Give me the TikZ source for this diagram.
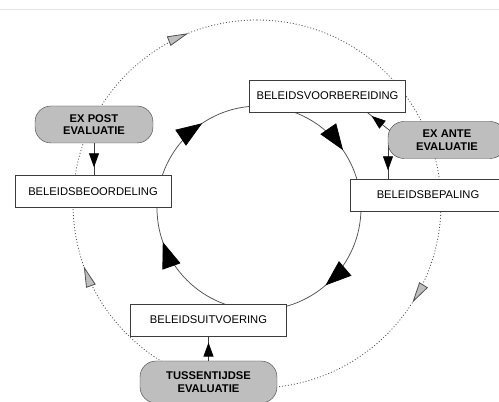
\documentclass[tikz,border=0pt]{standalone}
\usepackage{fontspec}
\setmainfont{Liberation Sans}
\usetikzlibrary{arrows.meta, decorations.markings, backgrounds, calc}
\definecolor{evalgray}{RGB}{190,190,190}
\definecolor{boxline}{RGB}{60,60,60}
\definecolor{loopgray}{RGB}{80,80,80}

\begin{document}
\begin{tikzpicture}[
    x=1pt, y=1pt,
    box/.style={rectangle, draw=boxline, fill=white, minimum width=156pt,
      minimum height=32pt, inner sep=0pt, text centered,
      font=\fontsize{11.2}{12.5}\selectfont},
    evalbox/.style={rectangle, rounded corners=16pt, draw=boxline, fill=evalgray,
      minimum width=118pt, minimum height=37pt, inner sep=0pt, align=center,
      font=\fontsize{11.2}{12.5}\selectfont\bfseries},
    link/.style={draw=boxline, line width=0.7pt, postaction={decorate},
      decoration={markings, mark=at position #1 with {\arrow{smalltip}}}},
    ring/.style={draw=loopgray, line width=0.75pt},
    evalring/.style={draw=loopgray, line width=0.8pt, dash pattern=on 1pt off 2pt},
    bigtip/.tip={Triangle[length=26pt, width=19pt, color=black]},
    smalltip/.tip={Triangle[length=14pt, width=10pt, color=black]},
    greytip/.tip={Triangle[length=21pt, width=10pt, color=loopgray, fill=evalgray]}
  ]
  \useasboundingbox (0,0) rectangle (499,402);
  \draw[gray!20, line width=1pt] (0,392) -- (499,392);

  % Centres of both loops
  \coordinate (policy) at (259,194);
  \coordinate (review) at (257,198);

  % Evaluation loop
  \draw[evalring, postaction={decorate}, decoration={markings,
      mark=at position 0.340 with {\arrow{greytip}},
      mark=at position 0.695 with {\arrow{greytip}},
      mark=at position 0.939 with {\arrow{greytip}}}]
    ([shift={(90:184)}]review) arc[start angle=90, end angle=-270, radius=184];

  % Policy loop
  \draw[ring, postaction={decorate}, decoration={markings,
      mark=at position 0.154 with {\arrow{bigtip}},
      mark=at position 0.387 with {\arrow{bigtip}},
      mark=at position 0.696 with {\arrow{bigtip}},
      mark=at position 0.906 with {\arrow{bigtip}}}]
    ([shift={(90:102)}]policy) arc[start angle=90, end angle=-270, radius=102];

  % Policy stages
  \node[box] (voorb) at (327.5,306) {BELEIDSVOORBEREIDING};
  \node[box] (bepal) at (428,207) {BELEIDSBEPALING};
  \node[box] (uitv) at (208.5,82) {BELEIDSUITVOERING};
  \node[box] (beoord) at (93,210.5) {BELEIDSBEOORDELING};

  % Evaluations
  \node[evalbox] (expost) at (94,277.5) {EX POST\\EVALUATIE};
  \node[evalbox] (exante) at (447,262) {EX ANTE\\EVALUATIE};
  \node[evalbox, minimum width=137pt, minimum height=42pt] (tuss) at (208.5,20)
    {TUSSENTIJDSE\\EVALUATIE};

  % Draw arrows
  \draw[link=0.75] (expost.south) -- (expost.south |- beoord.north);
  \draw[link=0.74] (tuss.north) -- (tuss.north |- uitv.south);
  \coordinate (bepin) at ([xshift=-40pt]bepal.north);
  \begin{scope}[on background layer]
    \draw[link=0.78] (bepin |- exante.center) -- (bepin);
    \draw[link=0.82] ([shift={(5pt,7pt)}]exante.west) -- ([xshift=39.5pt]voorb.south);
  \end{scope}
\end{tikzpicture}
\end{document}
